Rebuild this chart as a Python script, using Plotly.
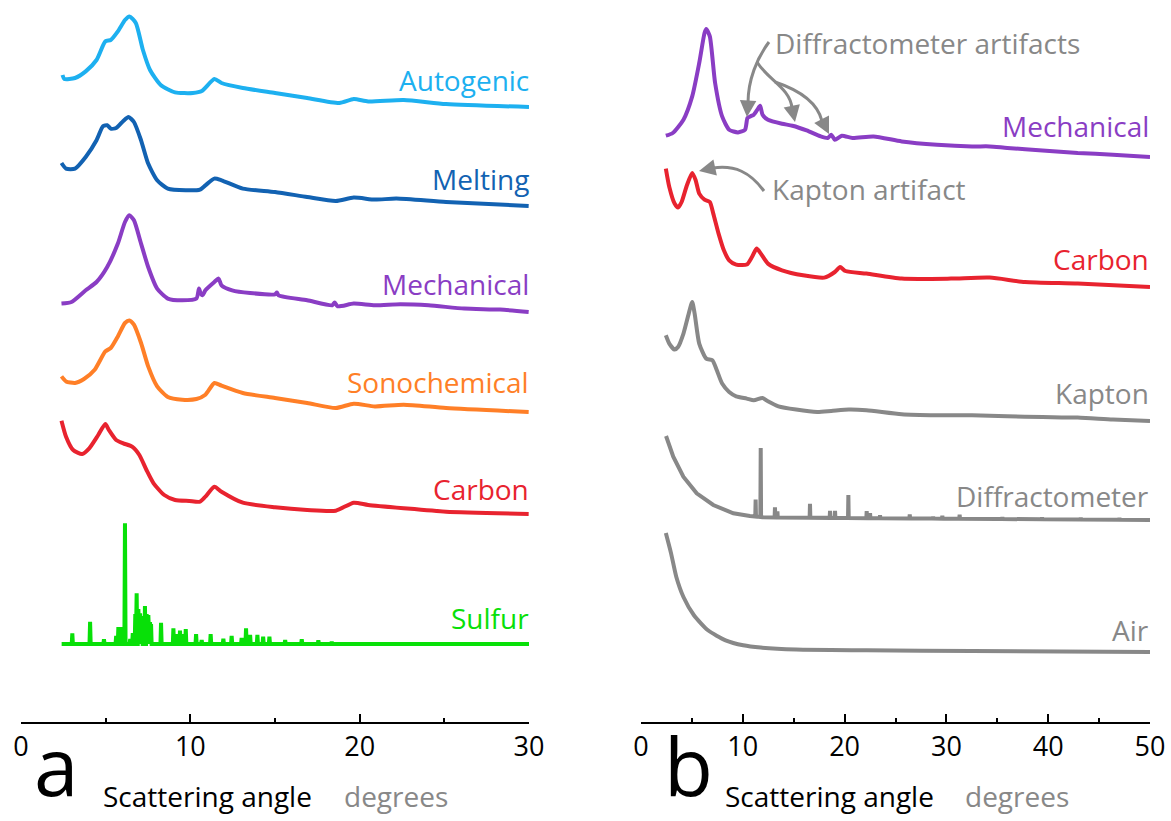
import plotly.graph_objects as go

W, H = 1171, 821
FONT = "Open Sans"
GRAY = "#888888"

# ---------------- panel a : scattering angle (deg) vs intensity (a.u., above high-angle tail)
auto_x = [2.45, 2.56, 3.19, 3.82, 4.46, 4.98, 5.30, 5.72, 6.14, 6.40, 6.78, 7.20, 7.62, 8.25,
          9.10, 10.15, 10.68, 11.42, 11.84, 13.1, 15.0, 16.9, 18.8, 19.65, 20.5, 22.6, 25.1, 30.0]
auto_y = [32, 28, 29, 35.6, 47, 65.6, 67, 75.6, 87, 90.6, 84, 57, 37, 22,
          14.6, 14, 16, 28, 24, 19, 14, 9, 4, 8, 5.6, 7, 3, 0]

melt_x = [2.39, 2.66, 3.19, 3.82, 4.46, 4.84, 5.09, 5.30, 5.62, 6.04, 6.35, 6.67, 7.09, 7.51, 8.04,
          8.67, 9.73, 10.57, 10.89, 11.42, 11.84, 13.1, 15.0, 16.9, 18.59, 19.65, 20.9, 22.17, 25.1, 29.98]
melt_y = [43, 37.4, 37.4, 49, 65.7, 79.7, 80.7, 77.4, 78, 85, 89, 84, 65.7, 42.4, 25.7,
          17.4, 15.7, 16.4, 20.7, 27.4, 25.7, 17.4, 14, 9, 5, 8.4, 6.4, 7.4, 4, 0]

mech_a_x = [2.39, 2.98, 3.82, 4.46, 5.09, 5.72, 6.14, 6.40, 6.67, 7.09, 7.51, 8.04, 8.67, 9.52,
            10.36, 10.51, 10.62, 10.72, 10.89, 11.42, 11.67, 11.84, 12.47, 13.53, 15.0, 15.11,
            15.21, 16.9, 18.38, 18.52, 18.70, 19.65, 20.9, 22.39, 24.07, 26.18, 28.29, 29.98]
mech_a_y = [8.4, 10, 21.7, 30, 45, 68.4, 90, 96.7, 91.7, 68.4, 45, 23.4, 13.4, 11.7,
            13.4, 23.4, 18.4, 16.7, 21.7, 30, 33.4, 26.7, 21.7, 19, 17.7, 19.4,
            16.7, 11.7, 6.7, 9.4, 5.7, 8.4, 6.7, 7.7, 6.7, 3.4, 2.4, 0]

sono_x = [2.39, 2.66, 3.19, 3.72, 4.35, 4.98, 5.30, 5.72, 6.14, 6.40, 6.67, 7.09, 7.51, 8.04, 8.67,
          9.52, 10.36, 10.89, 11.42, 11.84, 13.1, 15.0, 16.9, 18.59, 19.65, 20.9, 22.6, 25.1, 29.98]
sono_y = [35.6, 30.6, 29, 33, 42.3, 60.6, 64, 75.6, 89, 91.6, 87.3, 69, 45.6, 25.6, 15,
          12.3, 13, 17.3, 29, 26.3, 19, 14, 9, 4, 8.3, 5.6, 7.3, 4, 0]

carb_a_x = [2.39, 2.66, 3.08, 3.61, 4.03, 4.56, 4.98, 5.19, 5.62, 6.04, 6.56, 6.99, 7.41, 7.83, 8.46,
            9.1, 9.94, 10.57, 10.89, 11.42, 11.84, 13.1, 15.0, 16.9, 18.59, 19.65, 20.5, 22.6, 25.1, 29.98]
carb_a_y = [93.3, 77.3, 64, 60, 65.7, 79, 90, 84, 74, 70.7, 67.3, 59, 44, 30.7, 19,
            14, 13, 12.3, 17.3, 27.3, 22.3, 11.3, 6.7, 4, 3.3, 11.3, 9, 5.7, 2.3, 0]

# crystalline sulfur reflections: (angle, height)
sulfur_peaks = [(3.03, 10.7), (4.08, 22.3), (4.9, 4.7), (5.62, 8), (5.75, 17), (5.88, 17),
                (6.14, 120.7), (6.45, 5), (6.6, 11), (6.75, 30), (6.83, 50.7), (6.93, 35),
                (7.03, 30.7), (7.15, 28), (7.32, 38), (7.42, 30), (7.52, 29), (7.62, 22),
                (7.68, 20), (8.27, 21.3), (9.0, 15.7), (9.2, 10), (9.39, 13.3), (9.55, 10),
                (9.73, 15), (10.34, 10), (10.67, 4), (11.2, 10), (11.95, 5.3), (12.44, 8),
                (13.03, 6), (13.29, 15.7), (13.53, 9), (13.96, 9), (14.3, 7.3), (14.67, 7.3),
                (15.6, 4), (16.58, 4.7), (17.56, 3.7), (18.35, 2.3)]
sulfur_range = (2.4, 30.0)

# ---------------- panel b
mech_b_x = [2.44, 3.12, 4.17, 5.03, 5.72, 6.24, 6.41, 6.76, 7.28, 7.97, 8.66, 9.53, 10.22, 10.46,
            10.74, 11.08, 11.43, 11.7, 11.94, 12.47, 13.85, 14.88, 16.27, 17.65, 18.34, 18.69,
            19.04, 19.73, 20.77, 22.84, 25.61, 29.07, 32.52, 34.25, 35.98, 39.44, 42.9, 46.36, 50.0]
mech_b_y = [21.3, 24, 37.3, 60.6, 94, 124, 128, 120.6, 74, 40.6, 27.3, 24.6, 27.3, 39,
            40.6, 42.3, 47.3, 51.3, 42.3, 37.3, 33.3, 31.3, 26.6, 20.6, 19, 22.3,
            17.3, 21.3, 19, 20.6, 15.6, 12.3, 10.6, 10.6, 9, 6.6, 4, 2.3, 0]

carb_b_x = [2.44, 2.78, 3.3, 3.64, 3.99, 4.51, 5.03, 5.37, 5.72, 6.24, 6.76, 7.1, 7.62, 8.14, 8.66,
            9.35, 10.39, 10.9, 11.36, 11.77, 12.47, 13.85, 15.92, 18.0, 19.04, 19.56, 20.08,
            22.15, 25.61, 30.45, 34.25, 37.71, 42.9, 50.0]
carb_b_y = [118.4, 100, 83.4, 79.4, 85, 101.7, 114, 106.7, 93.4, 87.4, 85, 73.4, 53.4, 36.7, 26.7,
            22.4, 22.4, 30, 38.4, 33.4, 23.4, 16.7, 11.7, 9.4, 15, 20, 16,
            13.4, 8.4, 8.4, 9.4, 5, 3.4, 0]

kap_x = [2.44, 2.78, 3.3, 3.64, 4.17, 4.69, 5.03, 5.27, 5.72, 6.41, 7.01, 7.45, 7.97, 8.66, 9.35,
         10.39, 11.08, 11.94, 12.47, 13.5, 15.24, 17.31, 18.69, 20.42, 22.15, 25.61, 29.07,
         32.52, 35.98, 39.44, 42.9, 46.36, 50.0]
kap_y = [85.7, 77.4, 71.4, 74, 87.4, 107.4, 119, 107.4, 77.4, 62.4, 60.7, 50.7, 37.4, 29, 24.7,
         22.4, 20.7, 23, 19.7, 14.7, 11.4, 9, 10, 11.4, 10.7, 6.7, 5.7,
         5.7, 4.7, 4, 3.4, 1.4, 0]

diff_bg_x = [2.46, 3.17, 4.16, 5.47, 7.1, 9.07, 10.7, 12.0, 20.0, 35.0, 50.0]
diff_bg_y = [84, 63.3, 43.3, 26.7, 15, 6.7, 4, 2.7, 2, 1, 0]
diff_peaks = [(11.26, 17), (11.76, 69), (13.16, 10), (13.4, 6), (16.6, 14), (18.57, 7),
              (19.06, 7), (20.37, 23), (22.17, 7), (22.5, 5), (23.48, 3), (26.4, 4),
              (28.7, 2), (29.6, 3), (31.3, 4), (35.5, 2), (39.4, 2), (43.2, 2), (47.0, 2)]

air_x = [2.44, 2.96, 3.47, 4.17, 5.2, 6.58, 8.31, 10.04, 11.77, 15.24, 22.15, 32.52, 50.0]
air_y = [119, 98.4, 75, 55, 36.7, 21.7, 11.7, 6.7, 4.4, 2.4, 1.7, 1, 0]

# vertical stacking offsets
offsets_a = {"Autogenic": 615, "Melting": 516, "Mechanical": 410,
             "Sonochemical": 310, "Carbon": 208, "Sulfur": 78}
offsets_b = {"Mechanical": 565, "Carbon": 435, "Kapton": 301,
             "Diffractometer": 202, "Air": 70}

C_AUTO = "#1DB0F0"
C_MELT = "#1262B2"
C_MECH = "#8A3DC4"
C_SONO = "#FF7F27"
C_CARB = "#E8232F"
C_SULF = "#08E008"


def interp(x, xs, ys):
    for i in range(len(xs) - 1):
        if xs[i] <= x <= xs[i + 1]:
            t = (x - xs[i]) / (xs[i + 1] - xs[i])
            return ys[i] + t * (ys[i + 1] - ys[i])
    return ys[-1]


def sticks(peaks, base_x, base_y, w=0.035):
    """Turn a peak list into a stick pattern sitting on a background curve."""
    pts = list(zip(base_x, base_y))
    for p, h in peaks:
        b = interp(p, base_x, base_y)
        pts += [(p - w, b), (p, b + h), (p + w, b)]
    pts.sort(key=lambda t: t[0])
    return [t[0] for t in pts], [t[1] for t in pts]


fig = go.Figure()


def curve(x, y, off, color, xa, ya, smooth=True):
    fig.add_trace(go.Scatter(
        x=x, y=[v + off for v in y], mode="lines", xaxis=xa, yaxis=ya,
        line=dict(color=color, width=4, shape="spline" if smooth else "linear",
                  smoothing=0.6 if smooth else None),
        hoverinfo="skip", showlegend=False))


curve(auto_x, auto_y, offsets_a["Autogenic"], C_AUTO, "x", "y")
curve(melt_x, melt_y, offsets_a["Melting"], C_MELT, "x", "y")
curve(mech_a_x, mech_a_y, offsets_a["Mechanical"], C_MECH, "x", "y")
curve(sono_x, sono_y, offsets_a["Sonochemical"], C_SONO, "x", "y")
curve(carb_a_x, carb_a_y, offsets_a["Carbon"], C_CARB, "x", "y")
sx, sy = sticks(sulfur_peaks, list(sulfur_range), [0, 0])
curve(sx, sy, offsets_a["Sulfur"], C_SULF, "x", "y", smooth=False)

curve(mech_b_x, mech_b_y, offsets_b["Mechanical"], C_MECH, "x2", "y2")
curve(carb_b_x, carb_b_y, offsets_b["Carbon"], C_CARB, "x2", "y2")
curve(kap_x, kap_y, offsets_b["Kapton"], GRAY, "x2", "y2")
dx, dy = sticks(diff_peaks, diff_bg_x, diff_bg_y)
curve(dx, dy, offsets_b["Diffractometer"], GRAY, "x2", "y2", smooth=False)
curve(air_x, air_y, offsets_b["Air"], GRAY, "x2", "y2")


def px(x):
    return x / W


def py(y):
    return 1 - y / H


axis_bottom = py(722)
xcommon = dict(showline=True, linecolor="black", linewidth=2, mirror=False,
               ticks="inside", ticklen=8, tickwidth=2, tickcolor="black",
               dtick=10, tick0=0, showgrid=False, zeroline=False, automargin=False,
               tickfont=dict(family=FONT, size=27, color="black"),
               minor=dict(dtick=5, ticks="inside", ticklen=4, tickwidth=2, tickcolor="black"),
               fixedrange=True)
ycommon = dict(range=[0, 722], domain=[axis_bottom, 1], visible=False,
               automargin=False, fixedrange=True)

fig.update_layout(
    width=W, height=H, autosize=False, showlegend=False,
    margin=dict(l=0, r=0, t=0, b=0, pad=0, autoexpand=False),
    paper_bgcolor="white", plot_bgcolor="white",
    xaxis=dict(domain=[px(21), px(529)], range=[0, 30], anchor="y", **xcommon),
    xaxis2=dict(domain=[px(641), px(1150)], range=[0, 50], anchor="y2", **xcommon),
    yaxis=dict(anchor="x", **ycommon),
    yaxis2=dict(anchor="x2", **ycommon),
)

ann = []


def label(text, xr, ymid, color, size=28, anchor="right", yanchor="middle"):
    ann.append(dict(text=text, x=px(xr), y=py(ymid), xref="paper", yref="paper",
                    xanchor=anchor, yanchor=yanchor, showarrow=False,
                    font=dict(family=FONT, size=size, color=color)))


label("Autogenic", 531, 80, C_AUTO)
label("Melting", 531, 179, C_MELT)
label("Mechanical", 531, 284, C_MECH)
label("Sonochemical", 531, 382, C_SONO)
label("Carbon", 531, 489, C_CARB)
label("Sulfur", 531, 618, C_SULF)

label("Mechanical", 1151, 126, C_MECH)
label("Carbon", 1151, 259, C_CARB)
label("Kapton", 1151, 393, GRAY)
label("Diffractometer", 1151, 496, GRAY)
label("Air", 1151, 630, GRAY)

label("Diffractometer artifacts", 773, 43, GRAY, anchor="left")
label("Kapton artifact", 770, 189, GRAY, anchor="left")

# panel letters (kept inside the bottom edge) and axis titles
label("a", 56, 821, "black", size=80, anchor="center", yanchor="bottom")
label("b", 689, 821, "black", size=80, anchor="center", yanchor="bottom")
label("Scattering angle", 101, 796, "black", anchor="left")
label("degrees", 342, 796, GRAY, anchor="left")
label("Scattering angle", 723, 796, "black", anchor="left")
label("degrees", 963, 796, GRAY, anchor="left")

# arrowheads for the artifact call-outs
for tip, tail in [((699, 171), (713, 168)), ((747, 117), (748, 102)),
                  ((795, 122), (792, 107)), ((829, 134), (822, 120))]:
    ann.append(dict(text="", x=px(tip[0]), y=py(tip[1]), xref="paper", yref="paper",
                    ax=tail[0] - tip[0], ay=tail[1] - tip[1], showarrow=True,
                    arrowhead=2, arrowsize=1.1, arrowwidth=3, arrowcolor=GRAY, standoff=0))

fig.update_layout(annotations=ann)


def path(cmds):
    out = []
    for c in cmds:
        if isinstance(c, str):
            out.append(c)
        else:
            out.append(f"{px(c[0]):.5f},{py(c[1]):.5f}")
    return " ".join(out)


shapes = []
for cmds in [
    ["M", (764, 191), "C", (750, 172), (735, 165), (713, 168)],
    ["M", (769, 42), "C", (757, 58), (748, 80), (748, 103)],
    ["M", (757, 62), "C", (768, 80), (790, 88), (792, 108)],
    ["M", (775, 82), "C", (805, 92), (818, 105), (822, 121)],
]:
    shapes.append(dict(type="path", path=path(cmds), xref="paper", yref="paper",
                       line=dict(color=GRAY, width=3)))
fig.update_layout(shapes=shapes)

fig.write_html("out.html", config={"responsive": False})
